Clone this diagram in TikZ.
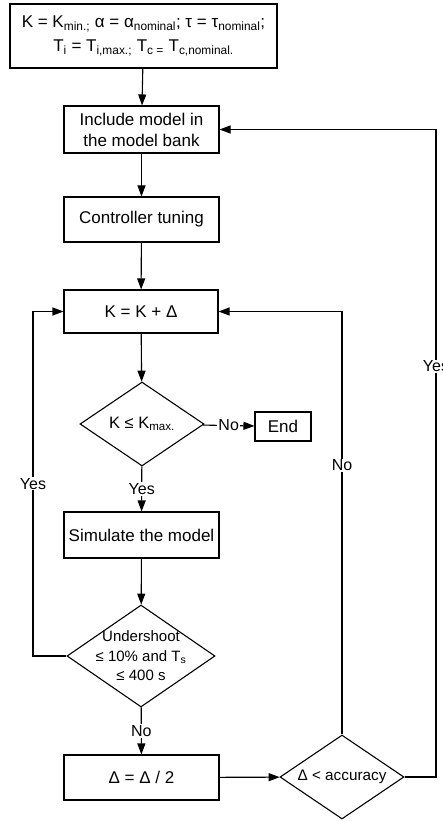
\documentclass[tikz,border=0pt]{standalone}
\usepackage{fontspec}
\setmainfont{Liberation Sans}
\usetikzlibrary{shapes.geometric,arrows.meta}
\newcommand\sbs[1]{\textsubscript{#1}}
\begin{document}
\begin{tikzpicture}[x=1pt,y=-1pt,
  box/.style={draw,line width=1.1pt,minimum width=155pt,minimum height=46pt,inner sep=0pt,align=center,font=\fontsize{17}{21}\selectfont},
  dia/.style={draw,diamond,line width=1.1pt,inner sep=0pt},
  dtext/.style={align=center,font=\fontsize{15}{19.5}\selectfont},
  arr/.style={line width=1.1pt,-{Triangle[length=11pt,width=8pt]}},
  lab/.style={fill=white,inner sep=1pt,font=\fontsize{16}{18}\selectfont}]
\useasboundingbox (0,0) rectangle (443,821);
\node[box,minimum width=267pt,minimum height=64pt,font=\fontsize{17}{24}\selectfont] (top) at (143.5,36)
  {K = K\sbs{min.;} α = α\sbs{nominal}; τ = τ\sbs{nominal};\\T\sbs{i} = T\sbs{i,max.;} T\sbs{c =} T\sbs{c,nominal.}};
\node[box,minimum height=47pt] (b2) at (141.5,129.5) {Include model in\\the model bank};
\node[box,minimum height=45pt] (b3) at (141.5,219.5) {Controller tuning};
\node[box,minimum width=154pt,minimum height=43pt] (b4) at (141,311.5) {K = K + Δ};
\node[dia,minimum width=124pt,minimum height=84pt,label={[dtext,font=\fontsize{16.5}{20}\selectfont]center:K ≤ K\sbs{max.}}] (d1) at (142,424) {};
\node[box,minimum width=56pt,minimum height=29pt] (end) at (283,426.5) {End};
\node[box,minimum height=46pt] (b5) at (141.5,535) {Simulate the model};
\node[dia,minimum width=148pt,minimum height=102pt,label={[dtext]center:Undershoot\\≤ 10\% and T\sbs{s}\\≤ 400 s}] (d2) at (141,656) {};
\node[box,minimum height=45pt] (b6) at (141.5,777.5) {Δ = Δ / 2};
\node[dia,minimum width=124pt,minimum height=84pt,label={[dtext,font=\fontsize{15.3}{19}\selectfont]center:Δ < accuracy}] (d3) at (342,777) {};
\coordinate (lc) at (33,311.5);
\coordinate (rc) at (436,129.5);
\draw[arr] (top) -- (b2);
\draw[arr] (b2) -- (b3);
\draw[arr] (b3) -- (b4);
\draw[arr] (b4) -- (d1);
\draw[arr] (d1) -- node[lab]{No} (end);
\draw[arr] (d1) -- node[lab]{Yes} (b5);
\draw[arr] (b5) -- (d2);
\draw[arr] (d2) -- node[lab]{No} (b6);
\draw[arr] (b6) -- (d3);
\draw[arr] (d2.west) -| node[lab,pos=0.75]{Yes} (lc) -- (b4.west);
\draw[arr] (d3.north) |- node[lab,pos=0.318]{No} (b4.east);
\draw[arr] (d3.east) -| node[lab,pos=0.817]{Yes} (rc) -- (b2.east);
\end{tikzpicture}
\end{document}
